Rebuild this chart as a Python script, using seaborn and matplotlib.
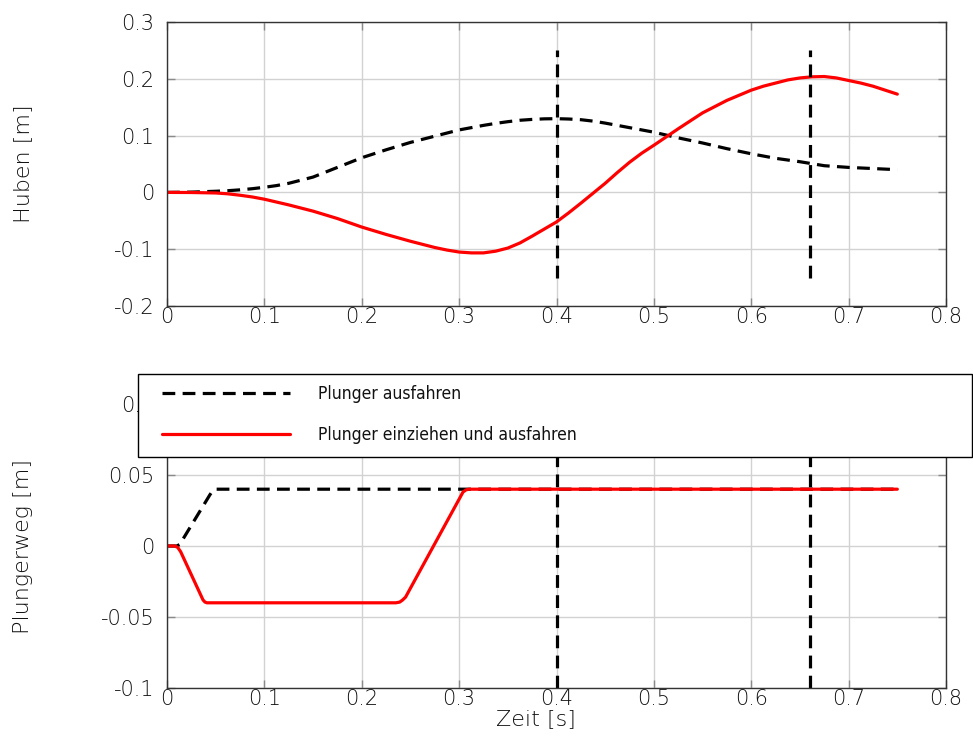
import matplotlib
matplotlib.use("Agg")
import matplotlib.pyplot as plt
from matplotlib import font_manager
from matplotlib.font_manager import FontProperties
from matplotlib.patches import Rectangle
import pandas as pd
import seaborn as sns

# Lift curves (upper panel)
t_hub = [0.0, 0.025, 0.05, 0.0625, 0.075, 0.0875, 0.1, 0.1125, 0.125, 0.15, 0.175,
         0.2, 0.225, 0.25, 0.275, 0.2875, 0.3, 0.3125, 0.325, 0.3375, 0.35, 0.3625,
         0.375, 0.3875, 0.4, 0.4125, 0.425, 0.4375, 0.45, 0.4625, 0.475, 0.4875, 0.5,
         0.525, 0.55, 0.575, 0.6, 0.6125, 0.625, 0.6375, 0.65, 0.6625, 0.675, 0.6875,
         0.7, 0.7125, 0.725, 0.7375, 0.75]
hub_ausfahren = [0.0, 0.0005, 0.002, 0.003, 0.0045, 0.0065, 0.009, 0.012, 0.016,
                 0.027, 0.044, 0.061, 0.075, 0.088, 0.099, 0.1045, 0.110, 0.114,
                 0.118, 0.1215, 0.1245, 0.127, 0.1285, 0.1295, 0.1298, 0.1292, 0.128,
                 0.1255, 0.122, 0.118, 0.114, 0.110, 0.106, 0.096, 0.087, 0.077, 0.068,
                 0.064, 0.060, 0.057, 0.054, 0.0505, 0.047, 0.0455, 0.044, 0.043, 0.042,
                 0.041, 0.040]
hub_einziehen = [0.0, -0.0002, -0.001, -0.0025, -0.005, -0.008, -0.012, -0.017,
                 -0.022, -0.033, -0.046, -0.061, -0.074, -0.086, -0.097, -0.1015,
                 -0.105, -0.1065, -0.1065, -0.1035, -0.098, -0.089, -0.077, -0.0645,
                 -0.052, -0.036, -0.019, -0.0015, 0.016, 0.035, 0.053, 0.069, 0.083,
                 0.112, 0.140, 0.162, 0.180, 0.187, 0.1925, 0.198, 0.2015, 0.2035,
                 0.204, 0.2015, 0.197, 0.1925, 0.187, 0.180, 0.173]

# Plunger stroke (lower panel)
t_plg_aus = [0.0, 0.010, 0.013, 0.044, 0.047, 0.050, 0.053, 0.75]
plg_ausfahren = [0.0, 0.0, 0.001, 0.036, 0.039, 0.040, 0.040, 0.040]
t_plg_ein = [0.0, 0.008, 0.011, 0.014, 0.037, 0.039, 0.041, 0.235, 0.239, 0.242,
             0.245, 0.304, 0.307, 0.310, 0.75]
plg_einziehen = [0.0, 0.0, -0.001, -0.004, -0.038, -0.0395, -0.040, -0.040, -0.0395,
                 -0.038, -0.036, 0.038, 0.0395, 0.040, 0.040]

# Switching instants marked by vertical lines
t_marks = [0.4, 0.66]
mark_span_top = [-0.15, 0.25]
mark_span_bottom = [-0.1, 0.1]

x_ticks = [0.0, 0.1, 0.2, 0.3, 0.4, 0.5, 0.6, 0.7, 0.8]
x_tick_labels = ["0", "0.1", "0.2", "0.3", "0.4", "0.5", "0.6", "0.7", "0.8"]
y_ticks_top = [-0.2, -0.1, 0.0, 0.1, 0.2, 0.3]
y_tick_labels_top = ["-0.2", "-0.1", "0", "0.1", "0.2", "0.3"]
y_ticks_bottom = [-0.1, -0.05, 0.0, 0.05, 0.1]
y_tick_labels_bottom = ["-0.1", "-0.05", "0", "0.05", "0.1"]

label_aus = "Plunger ausfahren"
label_ein = "Plunger einziehen und ausfahren"

sns.set_theme(style="whitegrid")
plt.rcParams["font.family"] = ["DejaVu Sans"]
plt.rcParams["font.weight"] = "light"
plt.rcParams["axes.labelweight"] = "light"
FS = 15          # tick labels
FS_LABEL = 16    # axis titles
TXT = "#111111"

# a narrow face for the legend, if one is installed
narrow = None
for f in font_manager.fontManager.ttflist:
    is_narrow = (f.stretch in ("condensed", "semi-condensed", "extra-condensed")
                 or "Narrow" in f.name or "Condensed" in f.name)
    if is_narrow and f.style == "normal" and f.weight in (400, "normal", "regular", "book"):
        narrow = f
        if "DejaVu" in f.name or "Liberation" in f.name:
            break
if narrow is not None:
    leg_prop = FontProperties(fname=narrow.fname, size=12.5)
else:
    leg_prop = FontProperties(family="DejaVu Sans", size=11)

W, H = 973, 740
fig = plt.figure(figsize=(W / 100, H / 100), dpi=100)
ax_top = fig.add_axes([167 / W, 1 - 306 / H, 779 / W, 284 / H])
ax_bot = fig.add_axes([167 / W, 1 - 688 / H, 779 / W, 284 / H])

DASH = (4, 2.3)
LW = 2.3


def style_axes(ax, yticks, ylabels):
    ax.set_facecolor("white")
    ax.set_xlim(0, 0.8)
    ax.set_xticks(x_ticks)
    ax.set_xticklabels(x_tick_labels)
    ax.set_yticks(yticks)
    ax.set_yticklabels(ylabels)
    ax.set_ylim(yticks[0], yticks[-1])
    ax.grid(True, color="#d2d2d2", linewidth=1.0)
    for sp in ax.spines.values():
        sp.set_visible(True)
        sp.set_color("#333333")
        sp.set_linewidth(1.0)
    ax.tick_params(axis="both", which="major", direction="in", length=6, width=1,
                   color="#8a8a8a", labelsize=FS, labelcolor=TXT,
                   top=True, right=True, bottom=True, left=True)
    ax.tick_params(axis="x", pad=1)
    ax.tick_params(axis="y", pad=9)


# Upper panel: lift
df_top = pd.DataFrame({"t": t_hub + t_hub,
                       "v": hub_ausfahren + hub_einziehen,
                       "s": [label_aus] * len(t_hub) + [label_ein] * len(t_hub)})
sns.lineplot(data=df_top[df_top.s == label_aus], x="t", y="v", ax=ax_top,
             color="black", linewidth=LW, sort=False, legend=False)
ax_top.lines[-1].set_dashes(DASH)
sns.lineplot(data=df_top[df_top.s == label_ein], x="t", y="v", ax=ax_top,
             color="#ff0000", linewidth=LW, sort=False, legend=False)
for tm in t_marks:
    ax_top.plot([tm, tm], mark_span_top, color="black", linewidth=LW, dashes=DASH)
style_axes(ax_top, y_ticks_top, y_tick_labels_top)
ax_top.set_xlabel("")
ax_top.set_ylabel("Huben [m]", fontsize=FS_LABEL, color=TXT, fontweight="light")
ax_top.yaxis.set_label_coords(-0.172, 0.5)

# Lower panel: plunger stroke
df_bot = pd.DataFrame({"t": t_plg_aus + t_plg_ein,
                       "v": plg_ausfahren + plg_einziehen,
                       "s": [label_aus] * len(t_plg_aus) + [label_ein] * len(t_plg_ein)})
sns.lineplot(data=df_bot[df_bot.s == label_aus], x="t", y="v", ax=ax_bot,
             color="black", linewidth=LW, sort=False, legend=False)
h_aus = ax_bot.lines[-1]
h_aus.set_dashes(DASH)
sns.lineplot(data=df_bot[df_bot.s == label_ein], x="t", y="v", ax=ax_bot,
             color="#ff0000", linewidth=LW, sort=False, legend=False)
h_ein = ax_bot.lines[-1]
for tm in t_marks:
    ax_bot.plot([tm, tm], mark_span_bottom, color="black", linewidth=LW, dashes=DASH)
style_axes(ax_bot, y_ticks_bottom, y_tick_labels_bottom)
ax_bot.set_xlabel("Zeit [s]", fontsize=FS_LABEL, color=TXT, fontweight="light")
ax_bot.xaxis.set_label_coords(0.474, -0.075)
ax_bot.set_ylabel("Plungerweg [m]", fontsize=FS_LABEL, color=TXT, fontweight="light")
ax_bot.yaxis.set_label_coords(-0.172, 0.5)

# Legend: white framed box spanning the top of the lower panel
box = Rectangle((138 / W, 1 - 457 / H), 834 / W, 83 / H, transform=fig.transFigure,
                facecolor="white", edgecolor="black", linewidth=1.0,
                zorder=4, clip_on=False)
ax_bot.add_patch(box)
fs_px = leg_prop.get_size_in_points() * 100 / 72
row_h = 1.17 * fs_px
leg = ax_bot.legend([h_aus, h_ein], [label_aus, label_ein], prop=leg_prop,
                    loc="center left", bbox_to_anchor=(162 / W, 1 - 414.5 / H),
                    bbox_transform=fig.transFigure, frameon=False,
                    handlelength=128 / fs_px, handletextpad=28 / fs_px,
                    labelspacing=(43 - row_h) / fs_px, borderpad=0.0,
                    borderaxespad=0.0)
leg.set_zorder(5)
for txt in leg.get_texts():
    txt.set_color(TXT)

fig.savefig("out.png", dpi=100, facecolor="white")
